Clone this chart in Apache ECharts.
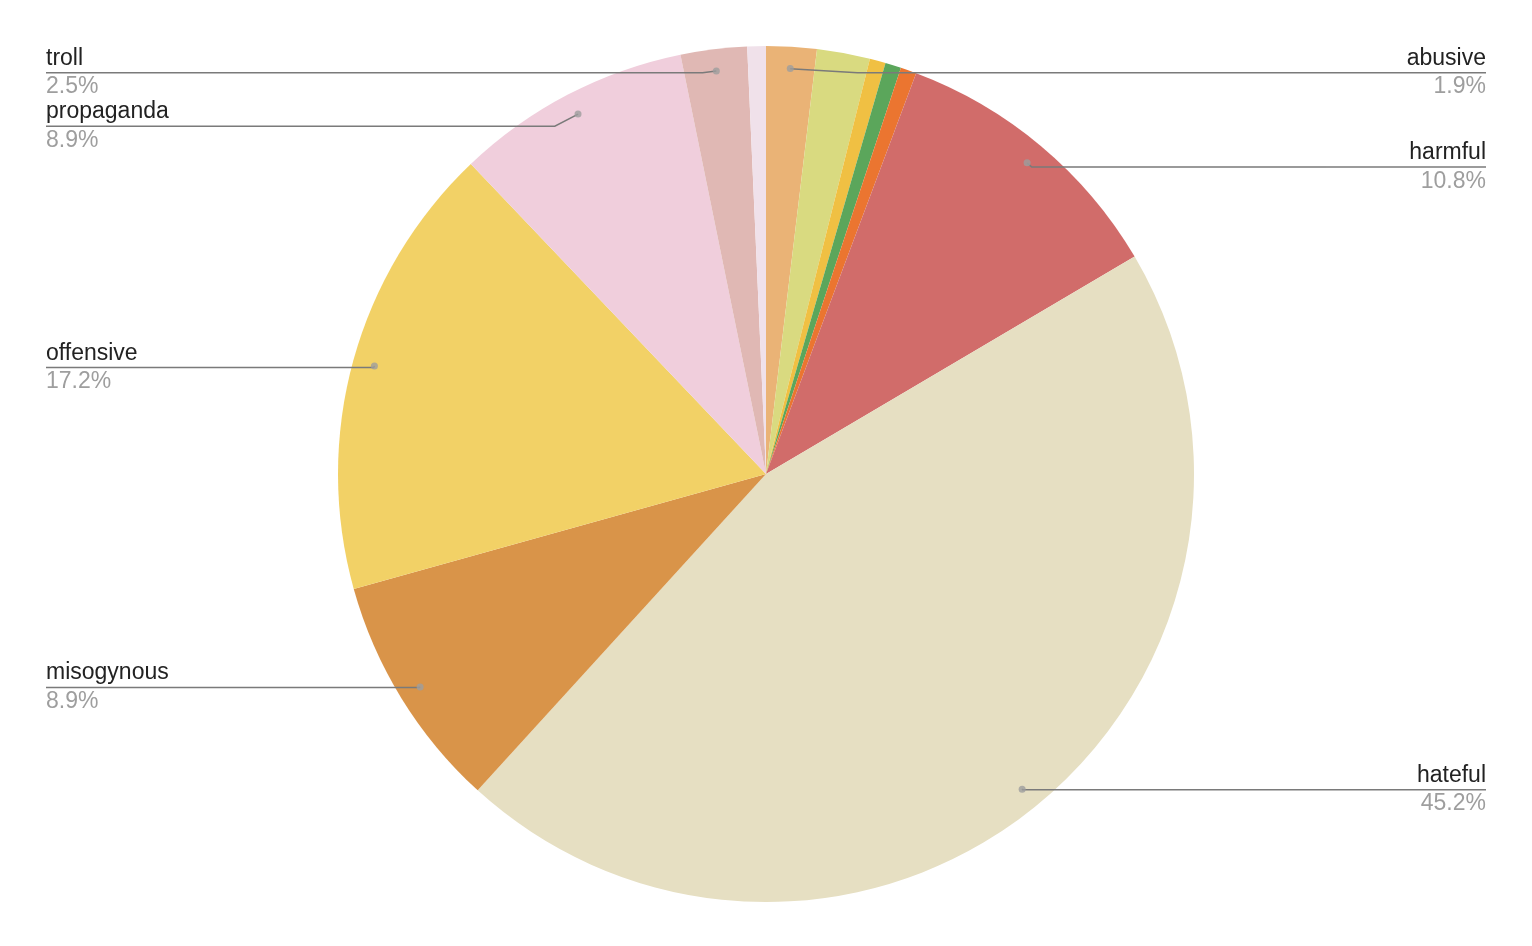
<!DOCTYPE html>
<html>
<head>
<meta charset="utf-8">
<script src="https://cdn.jsdelivr.net/npm/echarts@6/dist/echarts.min.js"></script>
<style>
html,body{margin:0;padding:0;background:#fff;}
#chart{width:1532px;height:946px;}
</style>
</head>
<body>
<div id="chart"></div>
<script>
// Categories in clockwise order from 12 o'clock
const categories = ['abusive', 'other A', 'other B', 'other C', 'other D', 'harmful', 'hateful', 'misogynous', 'offensive', 'propaganda', 'troll', 'other E'];
const values = [1.9, 2.0, 0.6, 0.6, 0.6, 10.8, 45.2, 8.9, 17.2, 8.9, 2.5, 0.7];
const labelled = [true, false, false, false, false, true, true, true, true, true, true, false];
const colors = ['#EAB376', '#D9DA80', '#F0C043', '#5BA65B', '#EB7530', '#D16C6A', '#E6DFC2', '#D99449', '#F2D166', '#F0CEDC', '#E0B8B4', '#F0E1EA'];

const total = values.reduce((a, b) => a + b, 0);
// mid-angle positions (in value units) for label-anchor dots
const mids = [];
let acc = 0;
values.forEach((v, i) => { if (labelled[i]) mids.push([0.949, acc + v / 2]); acc += v; });

const CX = 766, CY = 474, R = 428, RL = 406;
const TOP = 46;

const chart = echarts.init(document.getElementById('chart'), null, {renderer: 'canvas'});
const option = {
  animation: false,
  backgroundColor: '#ffffff',
  polar: {center: [CX, CY], radius: R},
  angleAxis: {type: 'value', min: 0, max: total, startAngle: 90, clockwise: true, show: false},
  radiusAxis: {type: 'value', min: 0, max: 1, show: false},
  series: [
    {
      type: 'pie',
      left: 0, top: 0, width: 1532, height: 946,
      center: [CX, CY],
      radius: R,
      startAngle: 90,
      clockwise: true,
      silent: true,
      label: {show: false},
      labelLine: {show: false},
      itemStyle: {borderWidth: 0},
      data: categories.map((c, i) => ({name: c, value: values[i], itemStyle: {color: colors[i]}}))
    },
    {
      type: 'pie',
      left: 0, top: TOP, width: 1532, height: 946 - 2 * TOP,
      center: [CX, CY - TOP],
      radius: RL,
      startAngle: 90,
      clockwise: true,
      silent: true,
      z: 5,
      itemStyle: {color: 'rgba(0,0,0,0)', borderWidth: 0},
      label: {
        show: true,
        position: 'outside',
        alignTo: 'edge',
        edgeDistance: 46,
        distanceToLabelLine: 0,
        fontFamily: 'Liberation Sans, Arial, sans-serif',
        formatter: p => '{n|' + p.name + '}\n{u| }\n{p|' + p.value.toFixed(1) + '%}',
        rich: {
          n: {fontSize: 23, color: '#222222', lineHeight: 27, fontFamily: 'Liberation Sans'},
          u: {width: 160, height: 1.5, lineHeight: 1.5, fontSize: 1, backgroundColor: '#7a7a7a'},
          p: {fontSize: 23, color: '#9e9e9e', lineHeight: 27, fontFamily: 'Liberation Sans'}
        }
      },
      labelLine: {show: true, length: 1, length2: 4, smooth: false, lineStyle: {color: '#7a7a7a', width: 1.5}},
      data: categories.map((c, i) => ({
        name: c, value: values[i],
        label: {show: labelled[i]},
        labelLine: {show: labelled[i]}
      }))
    },
    {
      type: 'scatter',
      coordinateSystem: 'polar',
      silent: true,
      z: 10,
      symbol: 'circle',
      symbolSize: 7,
      itemStyle: {color: '#9e9e9e'},
      data: mids
    }
  ]
};
chart.setOption(option);
</script>
</body>
</html>
